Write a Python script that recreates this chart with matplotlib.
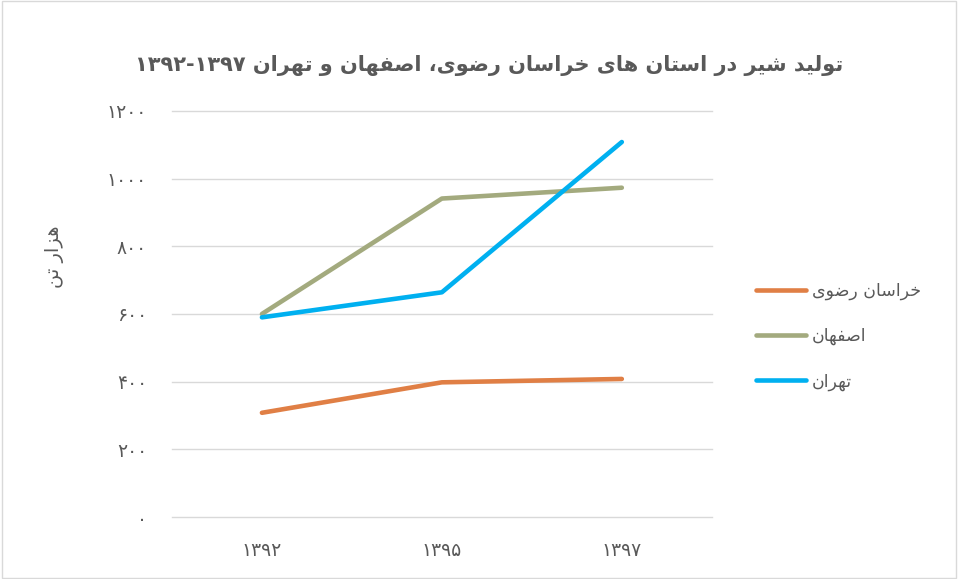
import matplotlib
matplotlib.use("Agg")
import matplotlib.pyplot as plt
import numpy as np

# data
years = ["1392", "1395", "1397"]
khorasan = [308, 398, 408]
isfahan = [600, 941, 973]
tehran = [590, 664, 1108]
y_ticks = [0, 200, 400, 600, 800, 1000, 1200]

title_text = "تولید شیر در استان های خراسان رضوی، اصفهان و تهران ۱۳۹۲-۱۳۹۷"
y_label_text = "هزار تن"
series_names = ["خراسان رضوی", "اصفهان", "تهران"]
colors = ["#e07f45", "#a3aa7e", "#00b0f0"]

# persian letter forms: (isolated, final, initial, medial)
forms = {
    "ا": (0xFE8D, 0xFE8E),
    "ت": (0xFE95, 0xFE96, 0xFE97, 0xFE98),
    "خ": (0xFEA5, 0xFEA6, 0xFEA7, 0xFEA8),
    "د": (0xFEA9, 0xFEAA),
    "ر": (0xFEAD, 0xFEAE),
    "ز": (0xFEAF, 0xFEB0),
    "س": (0xFEB1, 0xFEB2, 0xFEB3, 0xFEB4),
    "ش": (0xFEB5, 0xFEB6, 0xFEB7, 0xFEB8),
    "ص": (0xFEB9, 0xFEBA, 0xFEBB, 0xFEBC),
    "ض": (0xFEBD, 0xFEBE, 0xFEBF, 0xFEC0),
    "ف": (0xFED1, 0xFED2, 0xFED3, 0xFED4),
    "ل": (0xFEDD, 0xFEDE, 0xFEDF, 0xFEE0),
    "ن": (0xFEE5, 0xFEE6, 0xFEE7, 0xFEE8),
    "ه": (0xFEE9, 0xFEEA, 0xFEEB, 0xFEEC),
    "و": (0xFEED, 0xFEEE),
    "ی": (0xFBFC, 0xFBFD, 0xFBFE, 0xFBFF),
}
fa_digits = str.maketrans("0123456789", "۰۱۲۳۴۵۶۷۸۹")


def shape(text):
    # pick joined forms
    out = []
    for i, ch in enumerate(text):
        if ch not in forms:
            out.append(ch)
            continue
        f = forms[ch]
        prev = text[i - 1] if i > 0 else ""
        nxt = text[i + 1] if i + 1 < len(text) else ""
        join_prev = prev in forms and len(forms[prev]) == 4
        join_next = len(f) == 4 and nxt in forms
        if join_prev and join_next:
            out.append(chr(f[3]))
        elif join_prev:
            out.append(chr(f[1]))
        elif join_next:
            out.append(chr(f[2]))
        else:
            out.append(chr(f[0]))
    # simple right-to-left ordering, digit runs stay left-to-right
    runs = []
    for ch in out:
        is_num = ch in "۰۱۲۳۴۵۶۷۸۹-"
        if runs and runs[-1][0] == is_num:
            runs[-1][1].append(ch)
        else:
            runs.append((is_num, [ch]))
    result = ""
    for is_num, chars in reversed(runs):
        result += "".join(chars) if is_num else "".join(reversed(chars))
    return result


plt.rcParams["font.family"] = ["DejaVu Sans"]

figure = plt.figure(figsize=(9.58, 5.79), dpi=100)
axis = figure.add_axes([0.1795, 0.107, 0.5635, 0.7015])

x = np.arange(len(years))
for values, name, color in zip([khorasan, isfahan, tehran], series_names, colors):
    axis.plot(x, values, color=color, linewidth=3.3, solid_capstyle="round",
              label=shape(name))

# axes
axis.set_xlim(-0.5, 2.5)
axis.set_ylim(0, 1200)
axis.set_yticks(y_ticks)
axis.set_yticklabels([str(v).translate(fa_digits) for v in y_ticks])
axis.set_xticks(x)
axis.set_xticklabels([y.translate(fa_digits) for y in years])
axis.tick_params(axis="both", length=0, colors="#595959", labelsize=13.5)
axis.tick_params(axis="y", pad=18)
axis.tick_params(axis="x", pad=17)
axis.grid(axis="y", color="#d9d9d9", linewidth=1)
for line in axis.get_ygridlines():
    line.set_clip_on(False)
axis.set_axisbelow(True)
for side in ["top", "right", "left", "bottom"]:
    axis.spines[side].set_visible(False)

# labels and title
axis.set_ylabel(shape(y_label_text), fontsize=14, color="#595959")
axis.yaxis.set_label_coords(-0.2, 0.64)
figure.text(0.511, 0.887, shape(title_text), ha="center", va="center",
            fontsize=15, fontweight="bold", color="#595959")

# legend
axis.legend(loc="center left", bbox_to_anchor=(1.053, 0.445), frameon=False,
            fontsize=12.5, labelcolor="#595959", handlelength=2.9,
            labelspacing=1.55, handletextpad=0.3)

# outer border
figure.patches.append(plt.Rectangle((0.002, 0.002), 0.996, 0.996, transform=figure.transFigure,
                                    fill=False, edgecolor="#d9d9d9", linewidth=1))

plt.savefig("out.png", dpi=100)
